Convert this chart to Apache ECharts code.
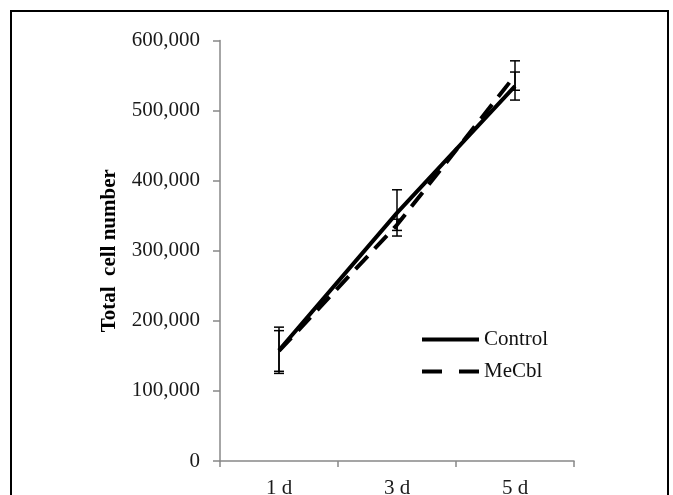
<!DOCTYPE html>
<html>
<head>
<meta charset="utf-8">
<script src="https://cdn.jsdelivr.net/npm/echarts@6/dist/echarts.min.js"></script>
<style>html,body{margin:0;padding:0;background:#fff;}#c{width:673px;height:495px;}</style>
</head>
<body>
<div id="c"></div>
<script>
var categories = ['1 d', '3 d', '5 d'];
var controlMean = [158000, 354000, 535000];
var controlErr = [33000, 33000, 20000];
var mecblMean = [157000, 337000, 550000];
var mecblErr = [29000, 8000, 21000];
var yTicks = [0, 100000, 200000, 300000, 400000, 500000, 600000];

function errData(mean, err) {
  return mean.map(function (m, i) { return [i, m - err[i], m + err[i]]; });
}
function renderErr(params, api) {
  var x = api.value(0);
  var lo = api.coord([x, api.value(1)]);
  var hi = api.coord([x, api.value(2)]);
  var hw = 5;
  var st = { stroke: '#000', lineWidth: 1.5 };
  return {
    type: 'group',
    children: [
      { type: 'line', shape: { x1: lo[0], y1: lo[1], x2: hi[0], y2: hi[1] }, style: st },
      { type: 'line', shape: { x1: lo[0] - hw, y1: lo[1], x2: lo[0] + hw, y2: lo[1] }, style: st },
      { type: 'line', shape: { x1: hi[0] - hw, y1: hi[1], x2: hi[0] + hw, y2: hi[1] }, style: st }
    ]
  };
}
var serif = '"Liberation Serif", "Times New Roman", serif';
var chart = echarts.init(document.getElementById('c'));
chart.setOption({
  animation: false,
  backgroundColor: '#fff',
  graphic: [{
    type: 'rect', shape: { x: 11, y: 11, width: 657, height: 520 },
    style: { fill: 'none', stroke: '#000', lineWidth: 2 }, silent: true
  }],
  grid: { left: 220, right: 99, top: 40.5, bottom: 34, containLabel: false, outerBoundsMode: 'none' },
  legend: {
    orient: 'vertical', left: 415, top: 324,
    itemWidth: 57, itemHeight: 14, itemGap: 11,
    itemStyle: { opacity: 0 },
    textStyle: { fontFamily: serif, fontSize: 21, color: '#111' },
    data: [
      { name: 'Control', lineStyle: { width: 4, color: '#000', type: 'solid' } },
      { name: 'MeCbl', lineStyle: { width: 4, color: '#000', type: [20, 17] } }
    ]
  },
  xAxis: {
    type: 'category', data: categories, boundaryGap: true,
    axisLine: { lineStyle: { color: '#888', width: 1.5 } },
    axisTick: { show: true, length: 6, lineStyle: { color: '#888', width: 1.5 } },
    axisLabel: { margin: 17, fontFamily: serif, fontSize: 21, color: '#1a1a1a' }
  },
  yAxis: {
    type: 'value', min: 0, max: 600000, interval: 100000,
    name: 'Total  cell number', nameLocation: 'middle', nameGap: 100, nameRotate: 90,
    nameTextStyle: { fontFamily: serif, fontSize: 21, fontWeight: 'bold', color: '#000' },
    splitLine: { show: false },
    axisLine: { show: true, lineStyle: { color: '#888', width: 1.5 } },
    axisTick: { show: true, length: 7, lineStyle: { color: '#888', width: 1.5 } },
    axisLabel: {
      margin: 20, fontFamily: serif, fontSize: 21, color: '#1a1a1a',
      formatter: function (v) { return v.toLocaleString('en-US'); }
    }
  },
  series: [
    { name: 'Control', type: 'line', data: controlMean, symbol: 'none', z: 3,
      lineStyle: { color: '#000', width: 4 }, itemStyle: { color: '#000' } },
    { name: 'MeCbl', type: 'line', data: mecblMean, symbol: 'none', z: 3,
      lineStyle: { color: '#000', width: 4, type: [18, 10] }, itemStyle: { color: '#000' } },
    { name: 'ctlErr', type: 'custom', renderItem: renderErr, data: errData(controlMean, controlErr), z: 4,
      encode: { x: 0, y: [1, 2] } },
    { name: 'mecErr', type: 'custom', renderItem: renderErr, data: errData(mecblMean, mecblErr), z: 4,
      encode: { x: 0, y: [1, 2] } }
  ]
});
</script>
</body>
</html>
